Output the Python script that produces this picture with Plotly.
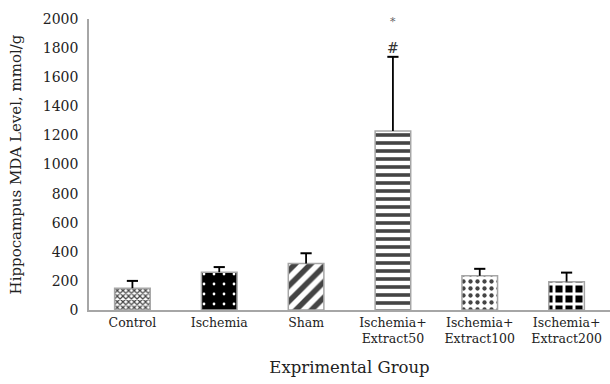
import plotly.graph_objects as go

groups = ["Control", "Ischemia", "Sham", "Ischemia+<br>Extract50",
          "Ischemia+<br>Extract100", "Ischemia+<br>Extract200"]
mda_mean = [150, 260, 320, 1230, 235, 195]
mda_err = [50, 35, 70, 510, 48, 62]
y_ticks = [0, 200, 400, 600, 800, 1000, 1200, 1400, 1600, 1800, 2000]

# per-bar hatch styles
shapes = ["x", ".", "/", "-", ".", "+"]
fg = ["black", "white", "black", "black", "black", "white"]
bg = ["white", "black", "white", "white", "white", "black"]
sizes = [4, 10, 11, 8, 7, 10]
solid = [0.5, 0.06, 0.5, 0.45, 0.3, 0.5]

FONT = "DejaVu Serif"

fig = go.Figure()
fig.add_trace(go.Bar(
    x=groups, y=mda_mean,
    width=0.41,
    marker=dict(
        color=bg,
        line=dict(color="#a6a6a6", width=1.5),
        pattern=dict(shape=shapes, fgcolor=fg, fgopacity=1, size=sizes,
                     solidity=solid, fillmode="overlay"),
    ),
))

# upward-only error bars: stem from bar top plus a cap at the end
err_x, err_y = [], []
for g, m, e in zip(groups, mda_mean, mda_err):
    err_x += [g, g, None]
    err_y += [m, m + e, None]
fig.add_trace(go.Scatter(x=err_x, y=err_y, mode="lines",
                         line=dict(color="black", width=1.8),
                         hoverinfo="skip"))
fig.add_trace(go.Scatter(x=groups, y=[m + e for m, e in zip(mda_mean, mda_err)],
                         mode="markers",
                         marker=dict(symbol="line-ew", size=8,
                                     line=dict(color="black", width=2)),
                         hoverinfo="skip"))

fig.add_annotation(x=groups[3], y=1800, text="#", showarrow=False,
                   font=dict(family=FONT, size=14, color="#333"))
fig.add_annotation(x=groups[3], y=1985, text="*", showarrow=False,
                   font=dict(family=FONT, size=11, color="#666"))

fig.update_layout(
    width=610, height=384,
    margin=dict(l=89, r=0, t=19, b=74),
    paper_bgcolor="white", plot_bgcolor="white",
    font=dict(family=FONT, size=13, color="#222"),
    showlegend=False,
)
fig.update_xaxes(
    showline=True, linecolor="#a6a6a6", linewidth=1.5,
    showgrid=False, ticks="",
    tickfont=dict(size=12.5),
    title=dict(text="Exprimental Group", font=dict(size=16.5), standoff=16),
)
fig.update_yaxes(
    range=[0, 2000], tickvals=y_ticks,
    showline=True, linecolor="#a6a6a6", linewidth=1.5,
    showgrid=False, ticks="", zeroline=False,
    tickfont=dict(size=14), ticklabelstandoff=6,
    title=dict(text="Hippocampus MDA Level, mmol/g", font=dict(size=15), standoff=18),
)

fig.write_html("out.html")
